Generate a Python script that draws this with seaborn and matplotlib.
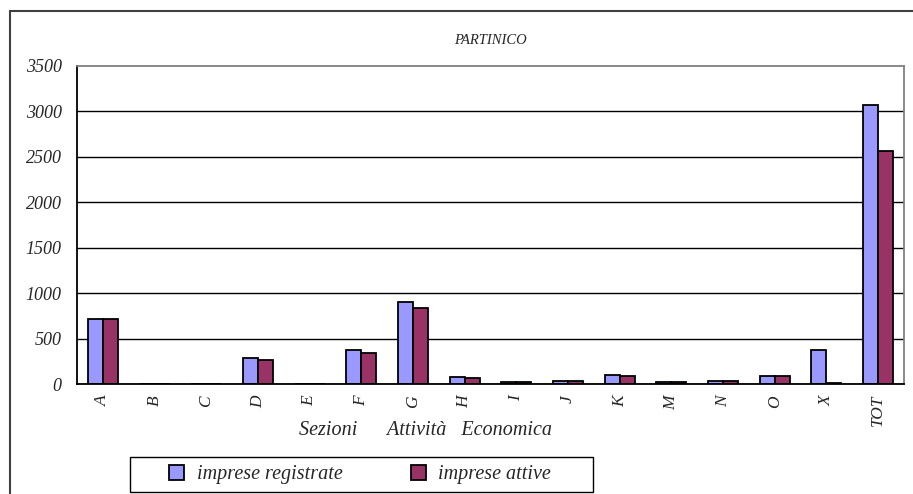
import pandas as pd
import matplotlib.pyplot as plt
import seaborn as sns
from matplotlib.patches import Rectangle

sns.set_style('white')
plt.rcParams['font.family'] = ['Liberation Serif', 'DejaVu Serif']
plt.rcParams['font.style'] = 'italic'

# dati
sezioni = ['A', 'B', 'C', 'D', 'E', 'F', 'G', 'H', 'I', 'J', 'K', 'M', 'N', 'O', 'X', 'TOT']
registrate = [720, 0, 5, 290, 3, 372, 905, 77, 25, 33, 102, 22, 30, 93, 375, 3070]
attive = [716, 0, 3, 265, 1, 342, 836, 70, 22, 30, 93, 20, 28, 90, 10, 2560]
serie = ['imprese registrate', 'imprese attive']
colori = ['#9999FF', '#993366']

df = pd.DataFrame({'sezione': sezioni, serie[0]: registrate, serie[1]: attive})
df = df.melt(id_vars='sezione', var_name='tipo', value_name='valore')

fig = plt.figure(figsize=(9.13, 4.94), dpi=100)
ax = fig.add_axes([77/913, 1-384/494, 827/913, 318/494])

sns.barplot(data=df, x='sezione', y='valore', hue='tipo', palette=colori,
            width=0.58, saturation=1, edgecolor='black', linewidth=1.3, ax=ax)

ax.set_xlim(-0.5, len(sezioni) - 0.5)
ax.set_ylim(0, 3500)
ax.set_yticks(range(0, 3501, 500))
ax.set_yticklabels([str(v) for v in range(0, 3501, 500)], fontsize=13)
ax.yaxis.grid(True, color='black', linewidth=1)
ax.get_ygridlines()[-1].set_visible(False)
ax.set_axisbelow(True)

# tick sui bordi delle categorie
ax.set_xticks([i - 0.5 for i in range(len(sezioni) + 1)], minor=True)
ax.tick_params(axis='x', which='major', length=0, pad=8, labelsize=12.5, labelrotation=90)
ax.tick_params(axis='x', which='minor', length=6, width=1, color='black', direction='out')
ax.tick_params(axis='y', length=5, width=1, color='black', direction='out', pad=6)

for s in ['top', 'right']:
    ax.spines[s].set_color('#808080')
    ax.spines[s].set_linewidth(1.3)
for s in ['left', 'bottom']:
    ax.spines[s].set_color('black')
    ax.spines[s].set_linewidth(1.3)

ax.set_ylabel('')
ax.set_xlabel('Sezioni      Attività   Economica', fontsize=14.5)
ax.xaxis.set_label_coords(0.421, -0.115)

ax.set_title('PARTINICO', fontsize=10.5, pad=16)

handles, labels = ax.get_legend_handles_labels()
leg = ax.legend(handles, labels, ncol=2, loc='center', bbox_to_anchor=(360/913, 1-474.5/494),
                bbox_transform=fig.transFigure, fontsize=14.5, frameon=False,
                handlelength=0.75, handleheight=0.75, handletextpad=0.6, columnspacing=3.4,
                borderpad=0.45, borderaxespad=0)

# riquadro della legenda
fig.add_artist(Rectangle((130/913, 1-492/494), 463/913, 35/494, transform=fig.transFigure,
                         fill=False, edgecolor='black', linewidth=1))

# cornice esterna
fig.add_artist(Rectangle((10/913, -0.1), 1.2, 1.1 - 11/494, transform=fig.transFigure,
                         fill=False, edgecolor='#404040', linewidth=1.5))

fig.savefig('out.png', dpi=100)
